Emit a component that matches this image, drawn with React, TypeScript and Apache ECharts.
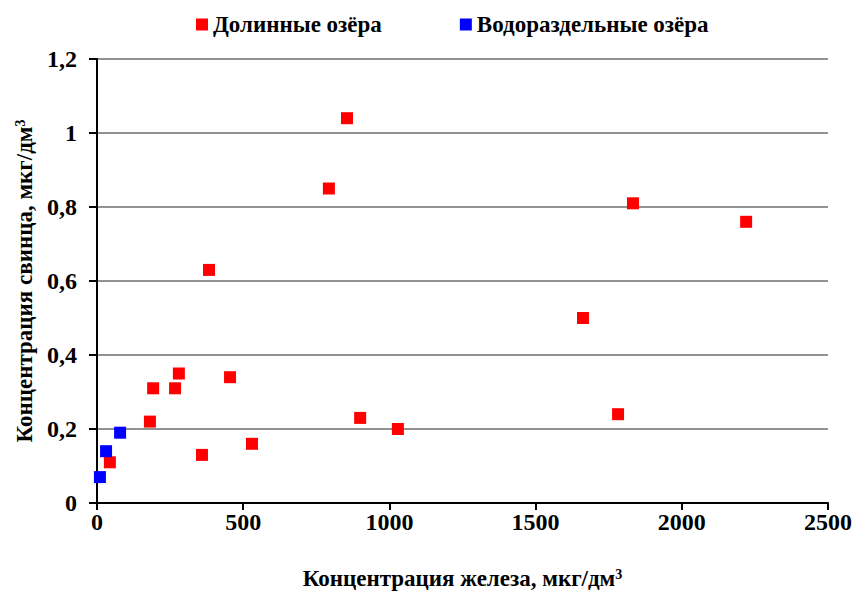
import React, { useEffect, useRef } from "react";
import * as echarts from "echarts";

const valleyFe = [44, 181, 192, 267, 280, 359, 383, 455, 530, 793, 855, 900, 1029, 1662, 1782, 1833, 2220];
const valleyPb = [0.11, 0.22, 0.31, 0.31, 0.35, 0.13, 0.63, 0.34, 0.16, 0.85, 1.04, 0.23, 0.2, 0.5, 0.24, 0.81, 0.76];
const divideFe = [10, 31, 79];
const dividePb = [0.07, 0.14, 0.19];
const seriesNames = ["Долинные озёра", "Водораздельные озёра"];

const FONT = "'Times New Roman', 'Liberation Serif', 'DejaVu Serif', serif";

export default function App() {
  const ref = useRef<HTMLDivElement>(null);
  useEffect(() => {
    if (!ref.current) return;
    const chart = echarts.init(ref.current, undefined, { renderer: "svg" });
    const pair = (xs: number[], ys: number[]) => xs.map((x, i) => [x, ys[i]]);
    const supRich = {
      a: { fontFamily: FONT, fontWeight: "bold", fontSize: 23, color: "#000" },
      s: { fontFamily: FONT, fontWeight: "bold", fontSize: 14, color: "#000", verticalAlign: "top", padding: [0, 0, 9, 0] },
    };
    chart.setOption({
      animation: false,
      backgroundColor: "#fff",
      textStyle: { fontFamily: FONT },
      legend: {
        top: 8,
        left: 191,
        itemWidth: 12,
        itemHeight: 12,
        itemGap: 78,
        icon: "rect",
        textStyle: { fontFamily: FONT, fontWeight: "bold", fontSize: 23, color: "#000" },
        data: seriesNames,
      },
      grid: { left: 97, right: 24, top: 59, bottom: 91, outerBoundsMode: "none", containLabel: false },
      xAxis: {
        type: "value",
        min: 0,
        max: 2500,
        interval: 500,
        name: "{a|Концентрация железа, мкг/дм}{s|3}",
        nameLocation: "middle",
        nameGap: 64,
        nameTextStyle: { rich: supRich },
        axisLine: { lineStyle: { color: "#000", width: 2 } },
        axisTick: { show: true, length: 7, lineStyle: { color: "#000", width: 2 } },
        axisLabel: {
          fontFamily: FONT,
          fontWeight: "bold",
          fontSize: 24,
          color: "#000",
          margin: 7,
          formatter: (v: number) => String(v),
        },
        splitLine: { show: false },
      },
      yAxis: {
        type: "value",
        min: 0,
        max: 1.2,
        interval: 0.2,
        name: "{a|Концентрация свинца, мкг/дм}{s|3}",
        nameLocation: "middle",
        nameRotate: 90,
        nameGap: 60,
        nameTextStyle: { rich: supRich },
        axisLine: { show: true, lineStyle: { color: "#000", width: 2 } },
        axisTick: { show: true, length: 8, lineStyle: { color: "#000", width: 2 } },
        axisLabel: {
          fontFamily: FONT,
          fontWeight: "bold",
          fontSize: 24,
          color: "#000",
          margin: 20,
          formatter: (v: number) => (Math.round(v * 10) / 10).toString().replace(".", ","),
        },
        splitLine: { show: true, lineStyle: { color: "#6e6e6e", width: 1.5 } },
      },
      series: [
        {
          name: seriesNames[0],
          type: "scatter",
          symbol: "rect",
          symbolSize: 12,
          itemStyle: { color: "#ff0000", opacity: 1 },
          data: pair(valleyFe, valleyPb),
        },
        {
          name: seriesNames[1],
          type: "scatter",
          symbol: "rect",
          symbolSize: 12,
          itemStyle: { color: "#0000ff", opacity: 1 },
          data: pair(divideFe, dividePb),
        },
      ],
    });
    return () => chart.dispose();
  }, []);
  return <div ref={ref} style={{ width: 852, height: 594, position: "absolute", left: 0, top: 0 }} />;
}
